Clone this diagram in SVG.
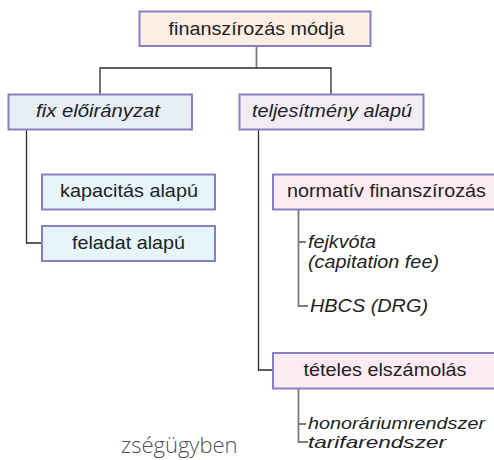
<svg xmlns="http://www.w3.org/2000/svg" width="494" height="460" viewBox="0 0 494 460">
  <style>
    .box { stroke: #8580c4; stroke-width: 2; }
    .lbl { font-family: "Liberation Sans", Arial, sans-serif; font-size: 18.5px; fill: #222222; }
    .sm { font-size: 17px; }
    .mid { text-anchor: middle; }
    .it { font-style: italic; }
    .ln { fill: none; stroke: #2a2a2a; stroke-width: 1.3; }
    .ln2 { fill: none; stroke: #7a7a7a; stroke-width: 1.8; }
  </style>
  <rect width="494" height="460" fill="#ffffff"/>

  <g id="connectors">
    <path class="ln2" d="M256.5 46 V68"/>
    <path class="ln" d="M100 94 V68 H331 V94"/>
    <path class="ln" d="M26.5 129.5 V243 H42"/>
    <path class="ln" d="M258.5 129.5 V370 H273"/>
    <path class="ln2" d="M298.5 209.5 V306 H308 M298.5 242 H306"/>
    <path class="ln2" d="M298.5 388.5 V442 H308 M298.5 424 H306"/>
  </g>

  <g id="node-finanszirozas-modja">
    <rect class="box" x="139.5" y="11.5" width="231" height="34.5" fill="#fdeee3"/>
    <text class="lbl mid" x="256.5" y="34.5" textLength="176" lengthAdjust="spacingAndGlyphs">finanszírozás módja</text>
  </g>
  <g id="node-fix-eloiranyzat">
    <rect class="box" x="8.5" y="94.5" width="183.5" height="35" fill="#e8eef8"/>
    <text class="lbl mid it" x="98" y="117" textLength="124" lengthAdjust="spacingAndGlyphs">fix előirányzat</text>
  </g>
  <g id="node-teljesitmeny-alapu">
    <rect class="box" x="239.5" y="94.5" width="184" height="35" fill="#f2ecf5"/>
    <text class="lbl mid it" x="332" y="117" textLength="160" lengthAdjust="spacingAndGlyphs">teljesítmény alapú</text>
  </g>
  <g id="node-kapacitas-alapu">
    <rect class="box" x="42" y="174.5" width="173" height="35" fill="#e6f4fb"/>
    <text class="lbl mid" x="129" y="196.5" textLength="138" lengthAdjust="spacingAndGlyphs">kapacitás alapú</text>
  </g>
  <g id="node-feladat-alapu">
    <rect class="box" x="42" y="226" width="173" height="35" fill="#e6f4fb"/>
    <text class="lbl mid" x="128.5" y="248.5" textLength="113" lengthAdjust="spacingAndGlyphs">feladat alapú</text>
  </g>
  <g id="node-normativ-finanszirozas">
    <rect class="box" x="273" y="174.5" width="240" height="35" fill="#fdeaf3"/>
    <text class="lbl mid" x="386.5" y="196.5" textLength="199" lengthAdjust="spacingAndGlyphs">normatív finanszírozás</text>
  </g>
  <g id="node-normativ-items">
    <text class="lbl it" x="308" y="247.5" textLength="68" lengthAdjust="spacingAndGlyphs">fejkvóta</text>
    <text class="lbl it" x="308" y="268" textLength="131" lengthAdjust="spacingAndGlyphs">(capitation fee)</text>
    <text class="lbl it" x="310" y="312" textLength="118" lengthAdjust="spacingAndGlyphs">HBCS (DRG)</text>
  </g>
  <g id="node-teteles-elszamolas">
    <rect class="box" x="273" y="353" width="240" height="35.5" fill="#fdeaf3"/>
    <text class="lbl mid" x="385" y="376" textLength="163" lengthAdjust="spacingAndGlyphs">tételes elszámolás</text>
  </g>
  <g id="node-teteles-items">
    <text class="lbl sm it" x="308" y="429" textLength="177" lengthAdjust="spacingAndGlyphs">honoráriumrendszer</text>
    <text class="lbl sm it" x="308" y="448" textLength="138" lengthAdjust="spacingAndGlyphs">tarifarendszer</text>
  </g>

  <text x="121" y="453" font-family="'Open Sans', sans-serif" font-weight="300" font-size="22" fill="#505050">zségügyben</text>
</svg>
